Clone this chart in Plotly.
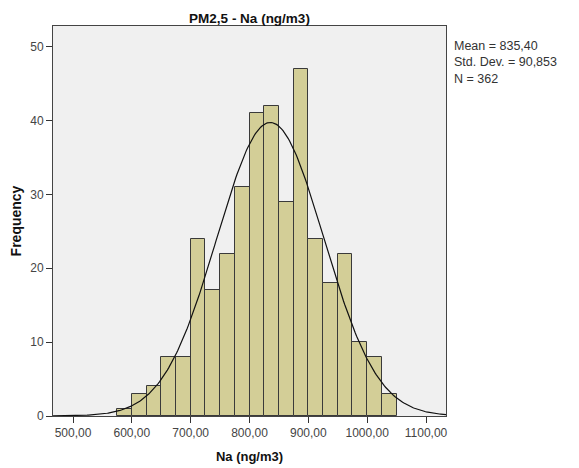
import numpy as np
import plotly.graph_objects as go

# histogram bins (left edges, width 25) and counts
bin_left = [575, 600, 625, 650, 675, 700, 725, 750, 775, 800,
            825, 850, 875, 900, 925, 950, 975, 1000, 1025]
counts = [1, 3, 4, 8, 8, 24, 17, 22, 31, 41,
          42, 29, 47, 24, 18, 22, 10, 8, 3]
bin_width = 25

# summary stats shown on the chart
mean = 835.40
std = 90.853
n = 362
stats_lines = ["Mean = 835,40", "Std. Dev. = 90,853", "N = 362"]

x_ticks = [500, 600, 700, 800, 900, 1000, 1100]
x_ticktext = ["500,00", "600,00", "700,00", "800,00", "900,00", "1000,00", "1100,00"]
y_ticks = [0, 10, 20, 30, 40, 50]

x_range = [466, 1134]
y_range = [0, 52.8]

centers = [b + bin_width / 2 for b in bin_left]

# normal curve scaled to counts
xs = np.linspace(x_range[0], x_range[1], 300)
ys = n * bin_width / (std * np.sqrt(2 * np.pi)) * np.exp(-0.5 * ((xs - mean) / std) ** 2)

fig = go.Figure()
fig.add_trace(go.Bar(x=centers, y=counts, width=bin_width,
                     marker_color="#d3ce97",
                     marker_line=dict(color="#3a3a3a", width=1)))
fig.add_trace(go.Scatter(x=xs, y=ys, mode="lines",
                         line=dict(color="#111111", width=1.2)))

font = "Liberation Sans, Arial, sans-serif"
L, R, T, B = 45, 141, 18, 60
fig.update_layout(
    width=579, height=468,
    margin=dict(l=L, r=R, t=T, b=B),
    paper_bgcolor="white",
    plot_bgcolor="#f0f0f0",
    showlegend=False,
    bargap=0,
    font=dict(family=font, size=12, color="#333333"),
    title=dict(text="<b>PM2,5 - Na (ng/m3)</b>", x=(L + (579 - R)) / 2 / 579, xanchor="center",
               y=0.977, yanchor="middle", font=dict(size=13.5, color="#111111")),
)
fig.update_xaxes(
    range=x_range, tickvals=x_ticks, ticktext=x_ticktext,
    showgrid=False, zeroline=False, automargin=False,
    showline=True, linecolor="#444444", linewidth=1, mirror=True,
    ticks="outside", ticklen=6, tickcolor="#333333",
    tickfont=dict(size=12, color="#444444"),
    title=dict(text="<b>Na (ng/m3)</b>", font=dict(size=13, color="#111111"), standoff=12),
)
fig.update_yaxes(
    range=y_range, tickvals=y_ticks,
    showgrid=False, zeroline=False, automargin=False,
    showline=True, linecolor="#444444", linewidth=1, mirror=True,
    ticks="outside", ticklen=6, tickcolor="#333333",
    tickfont=dict(size=12, color="#444444"),
    title=dict(text="<b>Frequency</b>", font=dict(size=14, color="#111111"), standoff=6),
)
fig.add_annotation(
    text="<br>".join(stats_lines),
    xref="paper", yref="paper", x=1.0, y=0.973, xshift=6,
    xanchor="left", yanchor="top", align="left", showarrow=False,
    font=dict(size=12.5, color="#333333"),
)

fig.write_html("out.html")
